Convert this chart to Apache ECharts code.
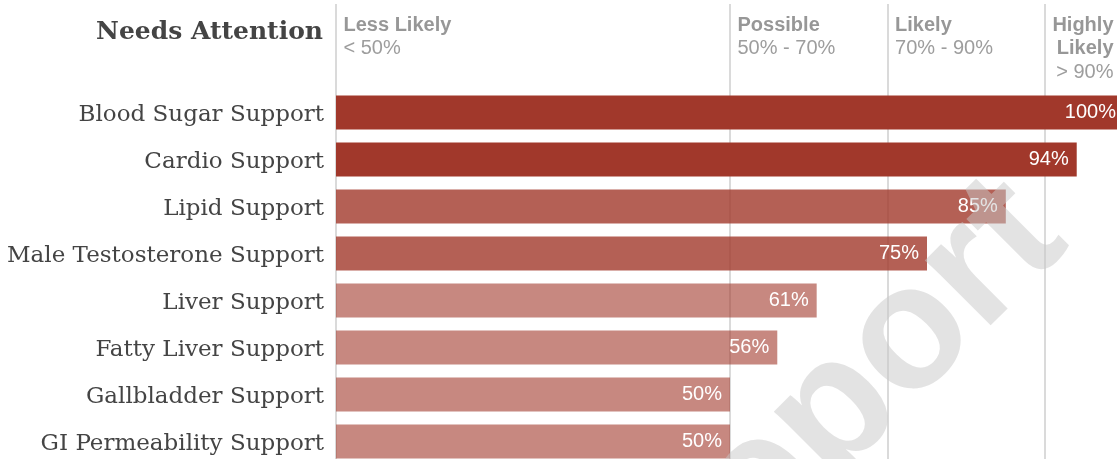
<!DOCTYPE html>
<html>
<head>
<meta charset="utf-8">
<script src="https://cdn.jsdelivr.net/npm/echarts@6/dist/echarts.min.js"></script>
<style>
html,body{margin:0;padding:0;background:#fff;}
#chart{width:1117px;height:459px;}
</style>
</head>
<body>
<div id="chart"></div>
<script>
// ---- data ----
var categories = ['Blood Sugar Support','Cardio Support','Lipid Support','Male Testosterone Support','Liver Support','Fatty Liver Support','Gallbladder Support','GI Permeability Support'];
var values = [100, 94, 85, 75, 61, 56, 50, 50];
var bandStarts = [0, 50, 70, 90];
var bandNames = ['Less Likely', 'Possible', 'Likely', 'Highly\nLikely'];
var bandRanges = ['< 50%', '50% - 70%', '70% - 90%', '> 90%'];
var chartTitle = 'Needs Attention';
var watermark = 'Report';

var baseColor = '161,56,43';
function barColor(v) {
  var a = v > 90 ? 1 : (v > 70 ? 0.8 : 0.6);
  return 'rgba(' + baseColor + ',' + a + ')';
}

var headerPoints = bandStarts.map(function (s, i) {
  var last = i === bandStarts.length - 1;
  var lines = bandNames[i].split('\n').map(function (t) { return '{b|' + t + '}'; });
  lines.push('{n|' + bandRanges[i] + '}');
  return {
    value: [last ? 100 : s, 1],
    label: {
      show: true,
      position: last ? [-10, 10] : [8, 10],
      align: last ? 'right' : 'left',
      verticalAlign: 'top',
      formatter: lines.join('\n'),
      rich: {
        b: { fontFamily: 'Liberation Sans, Arial, sans-serif', fontWeight: 'bold', fontSize: 20, color: '#7d7d7d', lineHeight: 23.5, align: last ? 'right' : 'left' },
        n: { fontFamily: 'Liberation Sans, Arial, sans-serif', fontSize: 20, color: '#858585', lineHeight: 23.5, align: last ? 'right' : 'left' }
      }
    }
  };
});

var chart = echarts.init(document.getElementById('chart'), null, { renderer: 'canvas' });
chart.setOption({
  animation: false,
  backgroundColor: '#ffffff',
  title: {
    text: chartTitle,
    right: 794,
    top: 20,
    padding: 0,
    textStyle: { fontFamily: 'DejaVu Serif, serif', fontWeight: 'bold', fontSize: 25, color: '#444444' }
  },
  grid: [
    { left: 336, width: 788, top: 89, height: 376, containLabel: false, outerBoundsMode: 'none' },
    { left: 336, width: 788, top: 4, height: 461, containLabel: false, outerBoundsMode: 'none' }
  ],
  xAxis: [
    { type: 'value', gridIndex: 0, min: 0, max: 100, show: false },
    { type: 'value', gridIndex: 1, min: 0, max: 100, show: false }
  ],
  yAxis: [
    {
      type: 'category', gridIndex: 0, data: categories, inverse: true,
      axisLine: { show: false }, axisTick: { show: false },
      axisLabel: { margin: 12, verticalAlign: 'top', lineHeight: 6, fontFamily: 'DejaVu Serif, serif', fontSize: 23, color: '#444444' }
    },
    { type: 'value', gridIndex: 1, min: 0, max: 1, show: false }
  ],
  series: [
    {
      type: 'scatter', xAxisIndex: 1, yAxisIndex: 1, z: 1,
      symbolSize: 1, itemStyle: { color: 'rgba(0,0,0,0)' },
      data: headerPoints,
      markLine: {
        silent: true, symbol: 'none', z: 1, label: { show: false },
        lineStyle: { color: '#dadada', width: 2, type: 'solid' },
        data: bandStarts.map(function (s) { return { xAxis: s }; })
      }
    },
    {
      type: 'bar', xAxisIndex: 0, yAxisIndex: 0, z: 2,
      barCategoryGap: '28%',
      data: values.map(function (v) { return { value: v, itemStyle: { color: barColor(v) } }; }),
      label: {
        show: true, position: 'insideRight', distance: 8,
        formatter: '{c}%', color: '#ffffff',
        fontFamily: 'Liberation Sans, Arial, sans-serif', fontSize: 20
      }
    }
  ],
  graphic: [
    {
      type: 'text', z: 100,
      x: 838, y: 410, rotation: Math.PI / 4,
      style: {
        text: watermark, fill: 'rgba(200,200,200,0.5)',
        font: 'bold 175px "Liberation Sans", Arial, sans-serif',
        textAlign: 'center', textVerticalAlign: 'middle'
      }
    }
  ]
});
</script>
</body>
</html>
